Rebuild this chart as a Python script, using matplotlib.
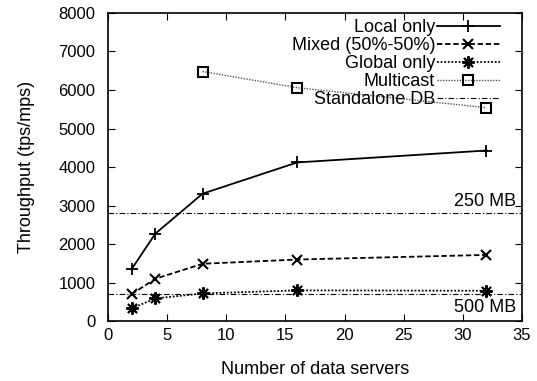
import numpy as np
import matplotlib.pyplot as plt

plt.rcParams['font.family'] = ['Liberation Sans', 'DejaVu Sans']

# Daten
servers = [2, 4, 8, 16, 32]
local_only = [1350, 2270, 3310, 4120, 4430]
mixed = [700, 1100, 1490, 1600, 1720]
global_only = [330, 590, 720, 800, 790]
mc_servers = [8, 16, 32]
multicast = [6480, 6060, 5540]
standalone = [2800, 700]
standalone_labels = ["250 MB", "500 MB"]

fig = plt.figure(figsize=(5.37, 3.81), dpi=100)
ax = fig.add_axes([0.201, 0.157, 0.771, 0.809])

ax.plot(servers, local_only, color="black", lw=1.3, marker="+", ms=9, mew=1.3,
        label="Local only")
ax.plot(servers, mixed, color="black", lw=1.3, ls=(0, (3, 1.5)), marker="x", ms=7,
        mew=1.5, label="Mixed (50%-50%)")
ax.plot(servers, global_only, color="black", lw=1.3, ls=(0, (1, 1)), marker=(8, 2, 0),
        ms=9, mew=1.4, label="Global only")
ax.plot(mc_servers, multicast, color="#555555", lw=1.0, ls=(0, (1, 1)), marker="s",
        ms=7, mew=1.5, mec="black", mfc="none", label="Multicast")
for i, v in enumerate(standalone):
    ax.axhline(v, color="black", lw=0.8, ls=(0, (5, 2, 1, 2)),
               label="Standalone DB" if i == 0 else None)

ax.text(34.5, standalone[0] + 80, standalone_labels[0], ha="right", va="bottom", fontsize=13)
ax.text(34.5, standalone[1] - 120, standalone_labels[1], ha="right", va="top", fontsize=13)

ax.set_xlim(0, 35)
ax.set_ylim(0, 8000)
ax.set_xticks(np.arange(0, 36, 5))
ax.set_yticks(np.arange(0, 8001, 1000))
ax.tick_params(direction="in", top=True, right=True, labelsize=12, length=5)
ax.tick_params(axis="x", pad=5)
ax.tick_params(axis="y", pad=9)
ax.set_xlabel("Number of data servers", fontsize=13, labelpad=13)
ax.set_ylabel("Throughput (tps/mps)", fontsize=13, labelpad=17)
for s in ax.spines.values():
    s.set_linewidth(1.2)

ax.legend(loc="upper right", bbox_to_anchor=(0.947, 0.98), frameon=False,
          markerfirst=False, fontsize=13, handlelength=3.5, labelspacing=0.06,
          borderaxespad=0, handletextpad=0.1, borderpad=0)

plt.savefig("out.png", dpi=100)
